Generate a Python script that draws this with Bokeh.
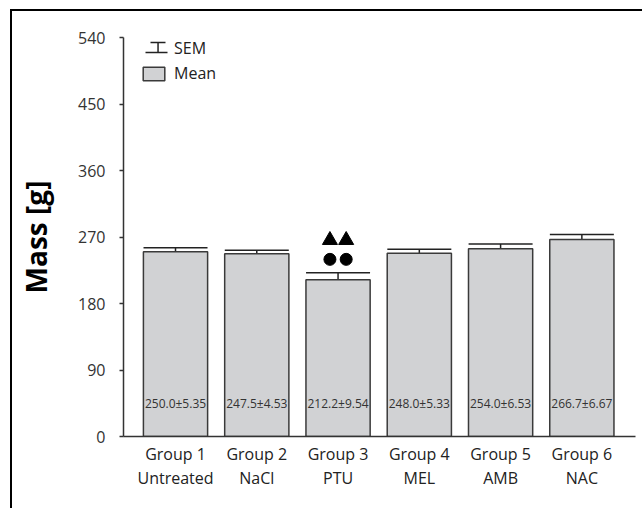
from bokeh.plotting import figure
from bokeh.models import (ColumnDataSource, Whisker, TeeHead, FixedTicker, Range1d,
                          Legend, LegendItem, BoxAnnotation)
from bokeh.core.properties import value
from bokeh.embed import file_html
from bokeh.resources import INLINE

# Body mass per treatment group (mean ± SEM)
groups = ["Group 1", "Group 2", "Group 3", "Group 4", "Group 5", "Group 6"]
treatments = ["Untreated", "NaCl", "PTU", "MEL", "AMB", "NAC"]
mean_mass = [250.0, 247.5, 212.2, 248.0, 254.0, 266.7]
sem_mass = [5.35, 4.53, 9.54, 5.33, 6.53, 6.67]
y_ticks = [0, 90, 180, 270, 360, 450, 540]
# groups flagged as significantly different (drawn as ▲▲ over ●●)
significant = ["Group 3"]

FONT = "Open Sans"
TXT = "#333333"
BAR_W = 0.79

idx = list(range(len(groups)))
src = ColumnDataSource(dict(
    x=idx,
    mean=mean_mass,
    upper=[m + s for m, s in zip(mean_mass, sem_mass)],
    label=[f"{m:.1f}±{s:.2f}" for m, s in zip(mean_mass, sem_mass)],
))

p = figure(width=632, height=499, output_backend="svg", toolbar_location=None,
           x_range=Range1d(-0.64, 5.66), y_range=Range1d(0, 540),
           min_border_left=111, min_border_right=9, min_border_top=26,
           min_border_bottom=74, background_fill_color="white",
           border_fill_color="white")
p.outline_line_color = None
p.grid.visible = False
p.styles = {"margin-left": "10px", "margin-top": "9px",
            "border-left": "2px solid black", "border-top": "2px solid black"}

bars = p.vbar(x="x", top="mean", width=BAR_W, source=src,
              fill_color="#d1d2d4", line_color="#3a3a3a", line_width=1.5)

err = Whisker(base="x", lower="mean", upper="upper", source=src,
              line_color="#222222", line_width=1.5,
              upper_head=TeeHead(size=64, line_color="#222222", line_width=1.5),
              lower_head=None)
p.add_layout(err)

p.text(x="x", y=0, text="label", source=src, text_align="center",
       text_baseline="middle", y_offset=-33, text_font=value(FONT),
       text_font_size="12px", text_color=TXT)

# significance symbols above the flagged bars
sx, sy_c, sy_t = [], [], []
for g in significant:
    i = groups.index(g)
    top = mean_mass[i] + sem_mass[i]
    for dx in (-0.1, 0.1):
        sx.append(i + dx)
        sy_c.append(top + 18)
        sy_t.append(top + 44)
p.scatter(sx, sy_c, marker="circle", size=12, fill_color="black", line_color="black")
p.scatter(sx, sy_t, marker="triangle", size=15, fill_color="black", line_color="black")

# axes
p.yaxis.ticker = FixedTicker(ticks=y_ticks)
p.yaxis.axis_label = "Mass [g]"
p.yaxis.axis_label_text_font = FONT
p.yaxis.axis_label_text_font_size = "28px"
p.yaxis.axis_label_text_font_style = "bold"
p.yaxis.axis_label_text_color = "black"
p.yaxis.axis_label_standoff = 20
p.yaxis.major_label_text_font = FONT
p.yaxis.major_label_text_font_size = "16px"
p.yaxis.major_label_text_color = TXT
p.yaxis.major_tick_out = 4
p.yaxis.major_tick_in = 0
p.yaxis.minor_tick_line_color = None
p.yaxis.major_label_standoff = 14
p.yaxis.axis_line_color = "#333333"
p.yaxis.axis_line_width = 1.5
p.yaxis.major_tick_line_color = "#333333"
p.yaxis.major_tick_line_width = 1.5

p.xaxis.ticker = FixedTicker(ticks=idx)
p.xaxis.major_label_overrides = {i: f"{g}\n{t}" for i, g, t in zip(idx, groups, treatments)}
p.xaxis.major_label_text_font = FONT
p.xaxis.major_label_text_font_size = "16px"
p.xaxis.major_label_text_line_height = 1.1
p.xaxis.major_label_text_color = "#222222"
p.xaxis.major_tick_line_color = None
p.xaxis.minor_tick_line_color = None
p.xaxis.major_label_standoff = 0
p.xaxis.axis_line_color = "#333333"
p.xaxis.axis_line_width = 1.5

# legend; the SEM entry keeps an empty slot and its I-beam icon is drawn below
sem_slot = p.line([], [], line_color="#222222", line_width=1.5)
legend = Legend(items=[LegendItem(label="SEM", renderers=[sem_slot]),
                       LegendItem(label="Mean", renderers=[bars])],
                location=(17, 352), orientation="vertical",
                glyph_width=27, glyph_height=17, label_standoff=7,
                spacing=3, padding=0, margin=0,
                border_line_color=None, background_fill_alpha=0,
                label_text_font=FONT, label_text_font_size="16px",
                label_text_color="#222222")
p.add_layout(legend)

icon = dict(left_units="canvas", right_units="canvas", top_units="canvas",
            bottom_units="canvas", fill_color="#222222", fill_alpha=1,
            line_color=None, level="overlay")
for l, r, t, b in [(131, 153, 38.2, 39.7),      # base
                   (142.8, 144.3, 29, 39),      # stem
                   (136, 151, 28.3, 29.8)]:     # cap
    p.add_layout(BoxAnnotation(left=l, right=r, top=t, bottom=b, **icon))

open("out.html", "w").write(file_html(p, INLINE))
